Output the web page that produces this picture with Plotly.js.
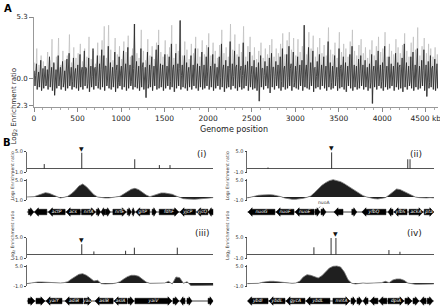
<!DOCTYPE html>
<html><head><meta charset="utf-8">
<script src="https://cdn.plot.ly/plotly-3.0.1.min.js"></script>
<style>html,body{margin:0;padding:0;background:#fff}#chart{width:440px;height:307px}</style>
</head><body><div id="chart"></div>
<script>
// ---------- Panel A : genome-wide log2 enrichment (25 kb bins) ----------
const binKb = 25;
const genomeKb = 4640;
const lightPeak = [
1.4,2.6,1.2,2.0,1.5,1.1,2.3,1.6,3.4,1.3,
1.9,3.5,1.2,2.4,1.6,2.0,3.8,1.4,2.7,1.8,
2.2,3.0,1.5,2.6,1.9,3.6,1.7,2.4,1.3,3.1,
2.0,3.3,4.5,1.8,4.6,2.5,1.6,3.5,2.1,2.8,
1.7,3.2,2.3,3.7,1.9,2.6,4.7,2.2,1.8,4.2,
2.4,1.6,3.4,2.0,2.8,1.7,3.1,4.2,2.3,1.9,
3.3,2.1,2.7,4.6,1.8,3.0,2.4,5.0,2.0,3.2,
2.5,1.7,3.0,2.2,3.6,2.6,1.9,3.3,2.1,2.9,
3.9,2.0,3.1,2.4,1.8,2.9,4.2,2.2,2.7,1.9,
4.7,2.5,3.8,2.1,3.0,2.3,4.5,1.9,2.8,3.6,
2.0,2.7,1.7,2.4,3.1,1.8,2.6,2.1,2.9,3.4,
1.9,2.6,2.2,3.0,3.9,2.1,3.3,4.0,2.5,3.5,
2.0,3.4,2.3,2.8,4.6,2.1,4.0,2.6,3.7,1.9,
2.7,3.5,2.2,2.9,2.0,4.4,2.5,2.1,3.1,1.8,
4.0,2.3,3.0,2.6,1.9,3.2,4.2,2.4,2.0,2.9,
3.4,2.2,2.7,1.8,2.5,3.3,2.0,2.8,3.6,2.3,
2.6,4.0,1.9,3.0,2.4,2.1,3.4,2.7,2.2,2.9,
3.9,2.4,1.9,3.1,3.6,2.5,4.4,2.0,2.8,3.5,
2.2,3.0,2.6,1.9,2.7,2.1];
const darkHigh = [
0.7,1.3,0.6,1.6,0.9,1.1,0.8,1.9,1.0,1.4,
0.8,2.0,1.0,1.5,0.7,1.7,2.2,1.0,1.8,0.9,
1.2,2.1,1.0,2.4,0.9,1.8,1.1,2.6,1.0,2.0,
1.3,2.5,2.0,1.1,2.8,1.4,1.0,2.3,1.2,1.9,
1.1,2.4,1.3,2.7,1.2,2.0,4.7,1.5,1.1,2.6,
1.4,1.0,2.3,1.2,1.9,1.1,2.5,2.9,1.3,1.2,
2.1,1.1,1.9,3.0,1.2,2.2,1.3,5.0,1.2,2.0,
1.4,1.0,2.0,1.2,2.6,1.3,1.1,2.3,1.2,1.9,
2.7,1.1,2.1,1.3,1.0,1.9,3.0,1.2,1.6,1.1,
3.2,1.3,2.4,1.2,1.9,1.1,3.1,1.2,1.5,2.3,
1.1,1.6,1.0,1.4,2.0,0.9,1.5,1.1,1.8,2.2,
1.0,1.5,1.2,1.9,2.6,1.1,2.1,2.8,1.3,2.3,
1.1,1.9,1.2,1.6,4.6,1.2,2.7,1.4,2.4,1.0,
1.5,2.1,1.2,1.9,1.1,3.2,1.4,1.1,2.0,1.0,
2.6,1.2,1.9,1.4,1.1,2.1,2.8,1.2,1.1,1.7,
2.0,1.2,1.6,1.0,1.3,2.1,1.1,1.6,2.4,1.2,
1.4,2.8,1.1,1.9,1.3,1.1,2.2,1.4,1.2,1.8,
3.0,1.4,1.1,1.9,2.3,1.2,2.6,1.1,1.6,2.5,
1.2,1.5,2.0,1.1,1.7,1.3];
const darkLow = [
-0.6,-0.9,-0.7,-1.0,-0.8,-0.6,-0.9,-0.7,-1.0,-1.4,
-0.8,-0.6,-0.9,-0.7,-1.0,-0.8,-0.6,-0.9,-0.7,-0.8,
-1.0,-0.7,-0.9,-0.6,-0.8,-1.1,-0.7,-0.9,-0.6,-0.8,
-0.9,-0.7,-1.0,-0.6,-0.8,-0.9,-0.7,-1.1,-0.8,-0.6,
-0.9,-0.7,-1.0,-0.8,-0.6,-0.9,-0.7,-0.8,-1.0,-0.7,
-0.9,-1.6,-0.8,-0.7,-1.0,-0.6,-0.9,-0.8,-0.7,-1.0,
-0.8,-0.6,-0.9,-0.7,-1.1,-0.8,-0.6,-0.9,-0.7,-0.8,
-1.0,-0.7,-0.9,-0.6,-0.8,-1.0,-0.7,-0.9,-0.8,-0.6,
-0.9,-0.7,-1.0,-0.8,-0.6,-0.9,-0.7,-1.1,-0.8,-0.7,
-0.9,-0.6,-0.8,-1.0,-0.7,-0.9,-0.8,-0.6,-1.0,-0.7,
-0.9,-0.8,-1.0,-1.9,-0.7,-0.9,-0.6,-0.8,-1.2,-0.7,
-0.9,-0.6,-0.8,-1.0,-0.7,-0.9,-0.8,-0.6,-1.0,-0.7,
-0.8,-0.9,-0.6,-1.0,-0.7,-0.8,-0.9,-0.6,-1.1,-0.8,
-0.7,-0.9,-0.6,-0.8,-1.0,-0.7,-0.9,-0.8,-0.6,-1.0,
-0.8,-0.7,-0.9,-1.1,-0.6,-0.8,-1.0,-0.7,-0.9,-0.8,
-0.6,-0.9,-0.7,-1.0,-0.8,-2.1,-0.7,-0.9,-0.6,-0.8,
-1.0,-0.7,-0.9,-0.8,-0.6,-1.0,-0.7,-0.9,-0.8,-1.1,
-0.7,-0.9,-0.6,-0.8,-1.0,-0.7,-0.9,-0.8,-0.6,-1.0,
-1.5,-0.8,-0.7,-0.9,-1.0,-0.8];
const darkMid = [
0.3,-0.2,0.6,0.1,0.8,-0.4,0.5,0.9,-0.1,0.4,
0.7,0.0,1.0,-0.3,0.6,0.2,0.9,-0.2,0.5,0.8,
-0.1,0.6,0.3,1.0,-0.4,0.7,0.2,0.9,0.4,-0.2,
0.8,0.3,1.1,-0.1,0.6,0.9,0.2,0.7,-0.3,0.5,
1.0,0.1,0.6,0.8,-0.2,0.9,0.4,0.7,-0.1,1.0,
0.3,0.6,-0.4,0.8,0.2,0.9,0.5,-0.1,0.7,0.3,
1.0,0.4,-0.2,0.8,0.6,0.1,0.9,0.3,0.7,-0.3,
0.5,0.9,0.2,0.6,-0.1,0.8,0.4,1.0,0.0,0.6,
0.3,0.9,-0.2,0.7,0.5,0.1,0.8,0.4,-0.3,0.9,
0.6,0.2,1.0,-0.1,0.7,0.3,0.5,0.9,-0.2,0.4,
0.8,0.1,0.6,-0.4,0.9,0.3,0.7,-0.1,0.5,1.0,
0.2,0.6,0.4,-0.2,0.8,0.5,0.1,0.9,0.3,-0.3,
0.7,0.4,1.0,0.0,0.6,0.8,-0.2,0.5,0.9,0.2,
0.6,-0.1,0.8,0.3,1.0,0.4,-0.3,0.7,0.5,0.1,
0.9,0.3,0.6,-0.2,0.8,0.4,0.7,1.0,-0.1,0.5,
0.2,0.8,0.4,0.9,-0.3,0.6,0.1,0.7,0.5,-0.2,
0.9,0.3,0.6,0.0,0.8,0.5,-0.1,1.0,0.4,0.7,
0.2,0.9,-0.2,0.6,0.3,0.8,0.5,-0.1,0.7,0.4,
0.6,-0.3,0.9,0.2,0.5,0.8];
const xTickVals = [0,500,1000,1500,2000,2500,3000,3500,4000,4500];
const xTickText = ['0','500','1000','1500','2000','2500','3000','3500','4000','4500 kb'];
const yTickVals = [5.3,0,-2.3];
const yTickText = ['5.3','0.0','2.3'];

// ---------- Panel B : four loci (0-10 kb windows) ----------
const panelNames = ['(i)','(ii)','(iii)','(iv)'];
const profileStepKb = 0.2;
const profile1 = [0.0,0.0,0.1,0.5,1.0,1.3,1.1,0.7,0.2,-0.3,-0.1,0.2,1.0,2.0,3.3,3.9,3.1,1.9,0.7,0.0,-0.2,-0.3,-0.3,-0.2,0.0,0.2,0.9,1.6,2.3,2.6,2.2,1.4,0.6,0.1,0.4,0.9,1.2,1.2,1.1,0.8,0.3,-0.2,-0.5,-0.6,-0.7,-0.7,-0.6,-0.5,-0.4,-0.3,-0.2];
const profile2 = [-0.3,0.0,0.3,0.5,0.6,0.7,0.7,0.6,0.4,0.1,-0.3,-0.6,-0.7,-0.7,-0.6,-0.4,-0.1,0.3,1.3,2.5,3.5,4.3,4.9,5.2,5.0,4.6,4.0,3.3,2.5,1.7,1.0,0.4,0.0,-0.3,-0.5,-0.6,-0.5,-0.2,0.6,1.6,2.4,2.2,1.6,1.0,0.4,0.0,-0.2,-0.3,-0.3,-0.2,-0.3];
const profile3 = [-0.2,0.0,0.1,0.3,0.3,0.2,0.1,0.1,0.1,0.0,0.1,0.4,1.2,2.0,2.6,2.8,2.3,1.5,0.6,0.8,-0.2,-0.3,-0.3,-0.2,0.0,0.4,1.2,1.9,2.3,2.3,2.0,1.2,0.3,-0.1,-0.1,-0.2,-0.1,0.0,0.5,-0.3,1.8,1.6,-0.1,0.4,-0.8,-0.8,-0.8,-0.8,-0.8,-0.8,-0.7];
const profile4 = [-0.2,-0.2,-0.2,-0.1,0.2,0.4,0.5,0.5,0.4,0.2,0.0,-0.1,-0.1,0.0,0.5,1.8,2.5,2.3,1.8,1.5,2.2,3.5,4.5,5.0,5.1,4.8,3.3,1.0,-0.1,-0.3,-0.1,0.0,-0.1,-0.1,0.0,0.0,0.1,0.5,0.1,0.9,1.2,1.2,0.8,0.0,-0.3,-0.4,-0.4,-0.4,-0.4,-0.4,-0.3];
const spikePos1 = [0.94,2.95,5.79,7.11,7.68], spikeHt1 = [1.4,4.7,2.8,1.1,1.1], mark1 = 1;
const spikePos2 = [1.11,4.52,8.60,8.72],      spikeHt2 = [0.4,4.8,2.8,2.8],     mark2 = 1;
const spikePos3 = [2.95,3.60,5.30,5.77,8.07], spikeHt3 = [3.1,1.0,1.2,2.1,2.1], mark3 = 0;
const spikePos4 = [3.57,4.49,4.75,7.59,8.18], spikeHt4 = [2.2,4.9,4.9,1.4,0.9], mark4 = 2;
// genes: [start kb, end kb, strand, name]
const genes1 = [[0.09,0.38,1,''],[0.41,1.08,-1,''],[1.16,2.06,-1,'actP'],[2.11,2.87,-1,'acs'],[2.94,3.69,1,'nrfA'],[3.73,3.96,1,''],[3.98,4.21,-1,''],[4.23,4.48,1,''],[4.62,5.34,1,'nrfE'],[5.39,5.61,1,''],[5.65,5.79,1,''],[5.84,6.59,-1,'gltP'],[6.72,6.95,1,''],[7.10,8.15,1,'fdhF'],[8.21,9.05,-1,'yjcP'],[9.10,9.71,-1,'yjcQ'],[9.73,10.0,-1,'']];
const genes2 = [[0.04,1.48,-1,'nuoG'],[1.54,2.50,-1,'nuoF'],[2.56,3.58,-1,'nuoE'],[3.63,3.90,1,''],[3.95,4.22,1,''],[4.64,5.13,-1,''],[5.60,5.87,1,''],[6.14,7.43,-1,'yfbQ'],[7.54,7.81,-1,''],[7.86,8.56,-1,'yfbS'],[8.67,9.42,1,'ackA'],[9.48,10.0,1,'pta']];
const genes3 = [[0.07,0.44,1,''],[0.50,0.98,1,''],[1.03,1.89,-1,'yaiY'],[2.05,3.02,-1,'adiB'],[3.07,3.50,1,'yaiZ'],[3.66,4.63,-1,'aslB'],[4.68,5.38,-1,'aslA'],[5.43,5.75,1,''],[5.80,7.79,1,'yaiV'],[7.84,8.16,1,''],[8.22,8.48,-1,''],[8.59,8.86,1,''],[9.72,9.99,1,'']];
const genes4 = [[0.01,1.11,-1,'ybdI'],[1.16,2.02,-1,'ybdL'],[2.07,3.09,-1,'gycA'],[3.14,4.43,-1,'ybdL'],[4.59,5.50,1,'mntA'],[5.56,5.82,1,''],[5.88,6.15,1,''],[6.20,6.47,-1,''],[6.57,7.00,-1,''],[7.04,7.48,-1,''],[7.54,8.40,1,'dpiA'],[8.45,8.83,1,''],[8.88,9.20,1,''],[9.26,9.58,-1,''],[9.64,9.96,1,'']];

const profiles = [profile1,profile2,profile3,profile4];
const spikePos = [spikePos1,spikePos2,spikePos3,spikePos4];
const spikeHt = [spikeHt1,spikeHt2,spikeHt3,spikeHt4];
const marks = [mark1,mark2,mark3,mark4];
const genes = [genes1,genes2,genes3,genes4];

// ---------- build ----------
const W=440,H=307;
const fx=p=>p/W, fy=p=>1-p/H;
const FONT='DejaVu Sans, Verdana, sans-serif';
const traces=[];
const layout={width:W,height:H,margin:{l:0,r:0,t:0,b:0},paper_bgcolor:'#fff',plot_bgcolor:'rgba(0,0,0,0)',
  showlegend:false,font:{family:FONT,color:'#222'},annotations:[]};

// Panel A traces
const xl=[],yl=[],xd=[],yd=[];
for(let i=0;i<lightPeak.length;i++){
  const s=i*binKb;
  xl.push(s+7,s+16); yl.push(lightPeak[i],darkLow[i]);
  xd.push(s+3,s+11,s+19); yd.push(darkHigh[i],darkLow[i],darkMid[i]);
}
traces.push({x:xl,y:yl,type:'scatter',mode:'lines',line:{color:'#bdbdbd',width:0.7},xaxis:'x',yaxis:'y',hoverinfo:'skip'});
traces.push({x:xd,y:yd,type:'scatter',mode:'lines',line:{color:'#242424',width:0.8},xaxis:'x',yaxis:'y',hoverinfo:'skip'});
layout.xaxis={domain:[fx(34),fx(438)],range:[0,genomeKb],anchor:'y',showline:true,linecolor:'#999',linewidth:1,
  ticks:'outside',ticklen:4,tickcolor:'#888',tickvals:xTickVals,ticktext:xTickText,tickfont:{size:7.5,color:'#222'},
  ticklabeloverflow:'allow',
  showgrid:false,zeroline:false,minor:{dtick:100,ticks:'outside',ticklen:2,tickcolor:'#aaa',showgrid:false}};
layout.yaxis={domain:[fy(107),fy(17)],range:[-2.4,5.3],anchor:'x',showline:true,linecolor:'#999',linewidth:1,
  ticks:'outside',ticklen:4,tickcolor:'#888',tickvals:yTickVals,ticktext:yTickText,tickfont:{size:7,color:'#222'},
  showgrid:false,zeroline:false};
const ann=layout.annotations;
ann.push({text:'<b>A</b>',x:fx(2),y:fy(1),xref:'paper',yref:'paper',xanchor:'left',yanchor:'top',showarrow:false,font:{size:10,color:'#000'}});
ann.push({text:'<b>B</b>',x:fx(1),y:fy(135),xref:'paper',yref:'paper',xanchor:'left',yanchor:'top',showarrow:false,font:{size:10,color:'#000'}});
ann.push({text:'Genome position',x:fx(234),y:fy(129),xref:'paper',yref:'paper',showarrow:false,font:{size:8,color:'#222'}});
ann.push({text:'Log<sub>2</sub> Enrichment ratio',x:fx(7),y:fy(66),xref:'paper',yref:'paper',showarrow:false,textangle:-90,font:{size:7,color:'#222'}});

// Panel B
function geneXY(g){
  const xs=[],ys=[];
  g.forEach(([s,e,st])=>{
    const head=Math.min(0.22,(e-s)*0.6), bh=0.55, hh=0.85;
    if(st>0){ xs.push(s,e-head,e-head,e,e-head,e-head,s,s,null); }
    else { xs.push(e,s+head,s+head,s,s+head,s+head,e,e,null); }
    ys.push(bh,bh,hh,0,-hh,-bh,-bh,bh,null);
  });
  return [xs,ys];
}
for(let k=0;k<4;k++){
  const col=k%2,row=Math.floor(k/2);
  const x0=col?247.3:26.7, x1=x0+186.6, off=row*86, gc=row?301:212;
  const n=2+3*k;
  [n,n+1,n+2].forEach(id=>{
    layout['xaxis'+id]={domain:[fx(x0),fx(x1)],range:[0,10],anchor:'y'+id,visible:false};
  });
  const yStyle={showline:true,linecolor:'#444',linewidth:0.8,ticks:'outside',ticklen:2,tickcolor:'#444',
    tickvals:[5,-1],ticktext:['5.0','-1.0'],tickfont:{size:5,color:'#333'},showgrid:false};
  layout['yaxis'+n]=Object.assign({},yStyle,{range:[-1,5],domain:[fy(172.3+off),fy(151.7+off)],anchor:'x'+n,zeroline:true,zerolinecolor:'#555',zerolinewidth:1});
  layout['yaxis'+(n+1)]=Object.assign({},yStyle,{range:[-1,5.4],domain:[fy(200.3+off),fy(179.0+off)],anchor:'x'+(n+1),zeroline:false});
  layout['yaxis'+(n+2)]={domain:[fy(gc+5),fy(gc-5)],range:[-1,1],anchor:'x'+(n+2),visible:false};
  // spikes
  const sx=[],sy=[];
  spikePos[k].forEach((p,i)=>{sx.push(p,p,null);sy.push(0,spikeHt[k][i],null);});
  traces.push({x:sx,y:sy,type:'scatter',mode:'lines',line:{color:'#333',width:1},xaxis:'x'+n,yaxis:'y'+n,hoverinfo:'skip'});
  ann.push({text:'▼',x:spikePos[k][marks[k]],y:spikeHt[k][marks[k]],xref:'x'+n,yref:'y'+n,showarrow:false,
    yanchor:'bottom',yshift:-1,font:{size:6,color:'#111'}});
  // profile
  const px=profiles[k].map((v,i)=>i*profileStepKb);
  traces.push({x:px,y:profiles[k],type:'scatter',mode:'lines',fill:'tozeroy',fillcolor:'#1f1f1f',
    line:{color:'#7a7a7a',width:0.8},xaxis:'x'+(n+1),yaxis:'y'+(n+1),hoverinfo:'skip'});
  // genes
  traces.push({x:[0,10],y:[0,0],type:'scatter',mode:'lines',line:{color:'#111',width:0.8},xaxis:'x'+(n+2),yaxis:'y'+(n+2),hoverinfo:'skip'});
  const [gx,gy]=geneXY(genes[k]);
  traces.push({x:gx,y:gy,type:'scatter',mode:'lines',fill:'toself',fillcolor:'#000',line:{color:'#000',width:0.5},
    xaxis:'x'+(n+2),yaxis:'y'+(n+2),hoverinfo:'skip',cliponaxis:false});
  const lab=genes[k].filter(g=>g[3]);
  traces.push({x:lab.map(g=>(g[0]+g[1])/2),y:lab.map(()=>0),text:lab.map(g=>'<i>'+g[3]+'</i>'),type:'scatter',mode:'text',
    textfont:{size:4.5,color:'#fff',family:FONT},xaxis:'x'+(n+2),yaxis:'y'+(n+2),hoverinfo:'skip',cliponaxis:false});
  // panel label and y title
  ann.push({text:panelNames[k],x:fx(col?424:202),y:fy(154+off),xref:'paper',yref:'paper',showarrow:false,font:{size:9,color:'#222'}});
  ann.push({text:'Log<sub>2</sub> Enrichment ratio',x:fx(col?227.5:7.5),y:fy(176+off),xref:'paper',yref:'paper',showarrow:false,textangle:-90,font:{size:4.5,color:'#333'}});
}
ann.push({text:'nuoA',x:fx(318.5),y:fy(208.5),xref:'paper',yref:'paper',showarrow:true,arrowhead:0,arrowwidth:0.5,arrowcolor:'#333',
  ax:5,ay:-6,font:{size:4.5,color:'#333'}});

Plotly.newPlot('chart',traces,layout,{staticPlot:true,displayModeBar:false});
</script></body></html>
